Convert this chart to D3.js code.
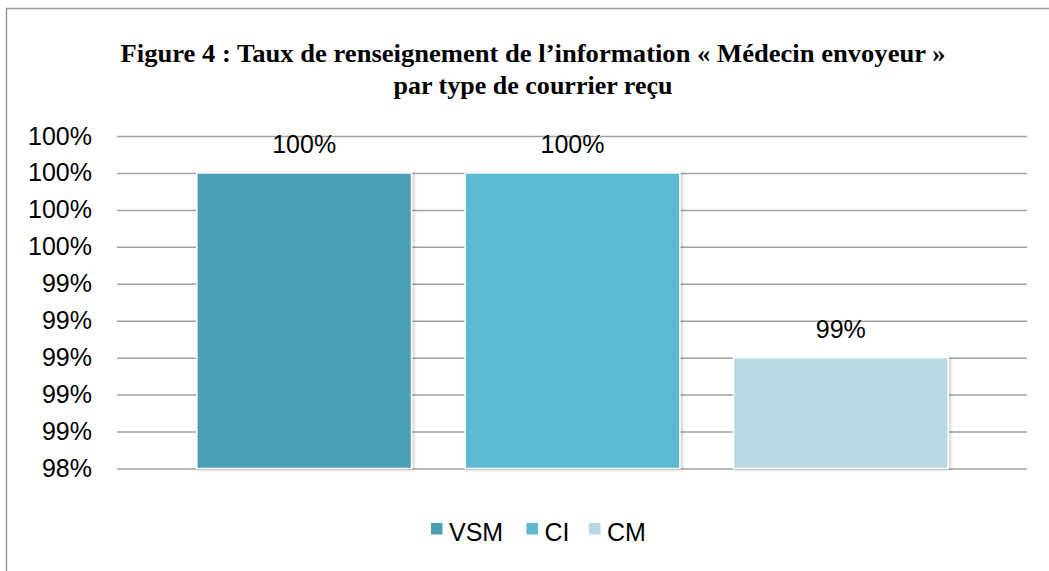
<!DOCTYPE html>
<html>
<head>
<meta charset="utf-8">
<script src="https://cdn.jsdelivr.net/npm/d3@7"></script>
<style>
  html, body { margin: 0; padding: 0; background: #fff; }
  svg { display: block; }
</style>
</head>
<body>
<svg id="chart" width="1049" height="571"></svg>
<script>
const titleLines = ["Figure 4 : Taux de renseignement de l’information « Médecin envoyeur »", "par type de courrier reçu"];
const categories = ["VSM", "CI", "CM"];
const values = [1.0, 1.0, 0.99];
const valueLabels = ["100%", "100%", "99%"];
const tickValues = [0.984, 0.986, 0.988, 0.990, 0.992, 0.994, 0.996, 0.998, 1.000, 1.002];
const tickLabels = ["98%", "99%", "99%", "99%", "99%", "99%", "100%", "100%", "100%", "100%"];
const colors = ["#4a9fb5", "#5cb9d1", "#b7d7e3"];

const svg = d3.select("#chart");

// drop shadow filter
const defs = svg.append("defs");
const f = defs.append("filter").attr("id", "shadow").attr("x", "-5%").attr("y", "-5%").attr("width", "115%").attr("height", "115%");
f.append("feDropShadow").attr("dx", 2).attr("dy", 1).attr("stdDeviation", 1.5).attr("flood-color", "#000").attr("flood-opacity", 0.18);

// outer frame
svg.append("rect").attr("x", 6.5).attr("y", 8.5).attr("width", 1100).attr("height", 600)
  .attr("fill", "#fff").attr("stroke", "#9a9a9a").attr("stroke-width", 1.5);

// title
const titleWidths = [825, 279];
svg.selectAll("text.title").data(titleLines).join("text")
  .attr("class", "title")
  .attr("x", 533).attr("y", (d, i) => 62 + i * 32)
  .attr("text-anchor", "middle")
  .attr("textLength", (d, i) => titleWidths[i])
  .attr("lengthAdjust", "spacingAndGlyphs")
  .style("font-family", "'Liberation Serif', 'Times New Roman', serif")
  .style("font-weight", "bold")
  .style("font-size", "25px")
  .style("fill", "#000")
  .text(d => d);

const plotLeft = 117, plotRight = 1027;
const y = d3.scaleLinear().domain([0.984, 1.002]).range([468.5, 136]);
const x = d3.scaleBand().domain(categories).range([170, 975]).paddingInner(0.2).paddingOuter(0.1);

// gridlines
const yAxis = d3.axisLeft(y).tickValues(tickValues).tickFormat((d, i) => tickLabels[i]).tickSize(-(plotRight - plotLeft)).tickPadding(25);
const gAxis = svg.append("g").attr("transform", `translate(${plotLeft},0)`).call(yAxis);
gAxis.select(".domain").remove();
gAxis.selectAll(".tick line").attr("stroke", "#a0a0a0").attr("stroke-width", 1.5);
gAxis.selectAll(".tick text")
  .style("font-family", "'Liberation Sans', Arial, sans-serif")
  .style("font-size", "25px")
  .attr("fill", "#000")
  .attr("x", -25);

// bars
svg.selectAll("rect.bar").data(categories).join("rect")
  .attr("class", "bar")
  .attr("x", d => x(d))
  .attr("width", x.bandwidth())
  .attr("y", (d, i) => y(values[i]))
  .attr("height", (d, i) => y(0.984) - y(values[i]))
  .attr("fill", (d, i) => colors[i])
  .attr("stroke", "#fff").attr("stroke-width", 1.5)
  .attr("filter", "url(#shadow)");

// value labels
svg.selectAll("text.vlabel").data(categories).join("text")
  .attr("class", "vlabel")
  .attr("x", d => x(d) + x.bandwidth() / 2)
  .attr("y", (d, i) => y(values[i]) - 20)
  .attr("text-anchor", "middle")
  .style("font-family", "'Liberation Sans', Arial, sans-serif")
  .style("font-size", "25px")
  .style("fill", "#000")
  .text((d, i) => valueLabels[i]);

// legend
const legendX = [431, 526.5, 589];
const lg = svg.selectAll("g.legend").data(categories).join("g")
  .attr("class", "legend")
  .attr("transform", (d, i) => `translate(${legendX[i]},523)`);
lg.append("rect").attr("width", 11.5).attr("height", 11.5).attr("fill", (d, i) => colors[i]);
lg.append("text").attr("x", 18).attr("y", 18)
  .style("font-family", "'Liberation Sans', Arial, sans-serif")
  .style("font-size", "25px")
  .style("fill", "#000")
  .text(d => d);
</script>
</body>
</html>
